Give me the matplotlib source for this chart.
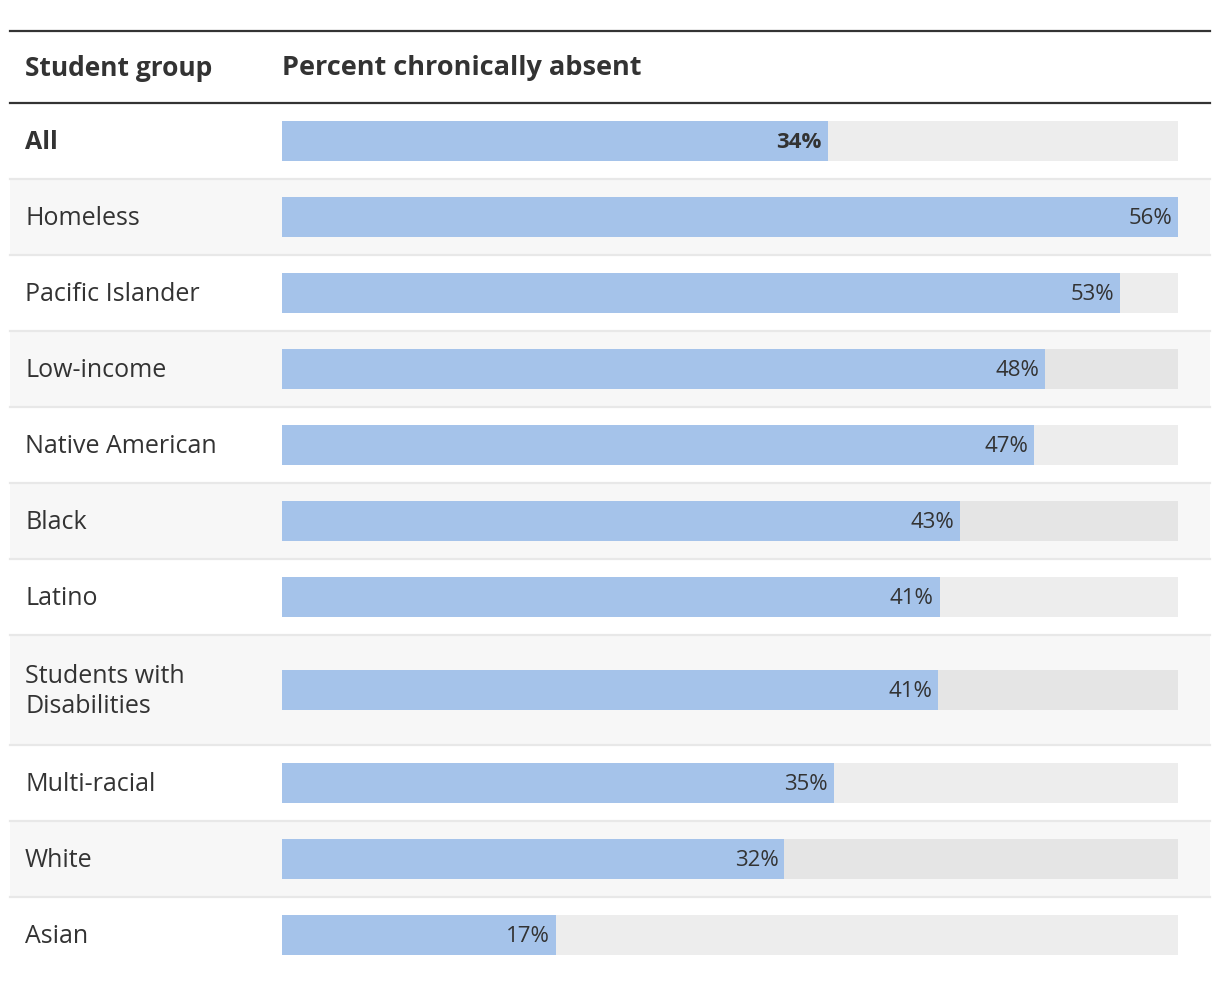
import matplotlib.pyplot as plt
import numpy as np

plt.rcParams['font.family'] = ['Open Sans', 'DejaVu Sans']

groups = ['All', 'Homeless', 'Pacific Islander', 'Low-income', 'Native American',
          'Black', 'Latino', 'Students with\nDisabilities', 'Multi-racial', 'White', 'Asian']
values = [34.1, 56.0, 52.4, 47.7, 47.0, 42.4, 41.1, 41.0, 34.5, 31.4, 17.1]
labels = ['34%', '56%', '53%', '48%', '47%', '43%', '41%', '41%', '35%', '32%', '17%']

W, H = 1220, 982
fig = plt.figure(figsize=(W / 100, H / 100), dpi=100)

# layout in pixels
top_line = 31
head_line = 103
row_h = np.array([110 if '\n' in g else 76 for g in groups])
row_top = head_line + np.concatenate([[0], np.cumsum(row_h)[:-1]])
row_mid = row_top + row_h / 2

bg = fig.add_axes([0, 0, 1, 1])
bg.set_xlim(0, W)
bg.set_ylim(H, 0)
bg.axis('off')

for i, (t, h) in enumerate(zip(row_top, row_h)):
    if i % 2 == 1:
        bg.fill_between([10, 1210], t, t + h, color='#f7f7f7', lw=0)
    if i > 0:
        bg.plot([10, 1210], [t, t], color='#e8e8e8', lw=1.6)

bg.plot([10, 1210], [top_line, top_line], color='#333333', lw=1.6)
bg.plot([10, 1210], [head_line, head_line], color='#333333', lw=1.6)

bg.text(25, 68, 'Student group', fontsize=19, fontweight='bold', color='#333333', va='center')
bg.text(282, 68, 'Percent chronically absent', fontsize=19.5, fontweight='bold', color='#333333', va='center')

for i, g in enumerate(groups):
    bg.text(25, row_mid[i] + 1.5, g, fontsize=18, color='#333333', va='center',
            fontweight='bold' if g == 'All' else 'normal', linespacing=1.3)

ax = fig.add_axes([282 / W, 0, 896 / W, 1])
ax.set_xlim(0, max(values))
ax.set_ylim(H, 0)
ax.axis('off')

ax.barh(row_mid, [max(values)] * len(values), height=40, color='black', alpha=0.07, lw=0)
ax.barh(row_mid, values, height=40, color='#a5c3ea', lw=0)

for i, (v, lab) in enumerate(zip(values, labels)):
    ax.annotate(lab, (v, row_mid[i] + 1.5), xytext=(-6, 0), textcoords='offset pixels',
                ha='right', va='center', fontsize=16, color='#333333',
                fontweight='bold' if i == 0 else 'normal')

fig.savefig('out.png', dpi=100, facecolor='white')
